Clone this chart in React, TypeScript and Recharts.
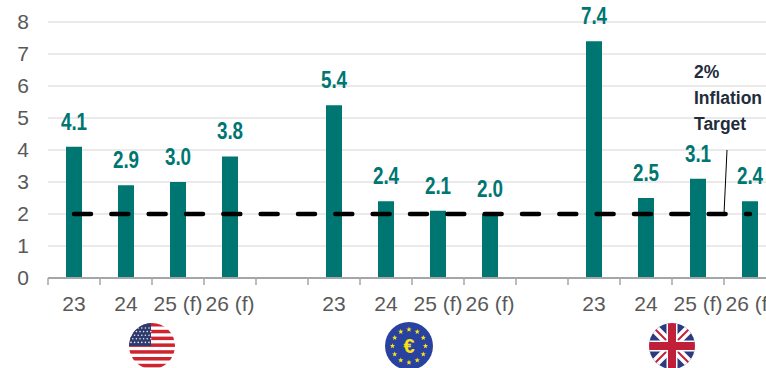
import { Bar, CartesianGrid, ComposedChart, LabelList, Line, XAxis, YAxis } from 'recharts';

const YEARS = ['23', '24', '25 (f)', '26 (f)', '', '23', '24', '25 (f)', '26 (f)', '', '23', '24', '25 (f)', '26 (f)'];
const INFLATION = [4.1, 2.9, 3.0, 3.8, null, 5.4, 2.4, 2.1, 2.0, null, 7.4, 2.5, 3.1, 2.4];
const TARGET = [2, 2, 2, 2, 2, 2, 2, 2, 2, 2, 2, 2, 2, 2];
const Y_TICKS = [0, 1, 2, 3, 4, 5, 6, 7, 8];
const TARGET_NOTE = ['2%', 'Inflation', 'Target'];

const TEAL = '#007672';
const SANS = '"Liberation Sans", Arial, sans-serif';
const SLOT_WIDTH = 52;

const rows = YEARS.map((year, i) => ({
  slot: i,
  year,
  inflation: INFLATION[i],
  target: TARGET[i],
}));

const STRIPES = [0, 1, 2, 3, 4, 5, 6];
const STAR_ANGLES = [0, 30, 60, 90, 120, 150, 180, 210, 240, 270, 300, 330];

function star(cx: number, cy: number, r: number) {
  const pts: string[] = [];
  for (let i = 0; i < 10; i++) {
    const a = (Math.PI / 5) * i - Math.PI / 2;
    const rad = i % 2 === 0 ? r : r * 0.42;
    pts.push(`${cx + rad * Math.cos(a)},${cy + rad * Math.sin(a)}`);
  }
  return pts.join(' ');
}

// Tick marks sit on the slot boundaries, the label stays centred in the slot
function YearTick({ x, y, payload }: any) {
  return (
    <g>
      <line x1={x - SLOT_WIDTH / 2} x2={x - SLOT_WIDTH / 2} y1={278} y2={285} stroke="#a6a6a6" strokeWidth={1.5} />
      <text x={x} y={y + 25} textAnchor="middle" fill="#595959" fontSize={21} fontFamily={SANS}>
        {YEARS[payload.value]}
      </text>
    </g>
  );
}

// Bold value labels, squeezed horizontally
function ValueLabel({ x, y, width, value }: any) {
  if (value == null) return null;
  const cx = x + width / 2;
  return (
    <text
      transform={`translate(${cx},${y - 17}) scale(0.82,1)`}
      textAnchor="middle"
      fill={TEAL}
      fontSize={23}
      fontWeight={700}
      fontFamily={SANS}
    >
      {Number(value).toFixed(1)}
    </text>
  );
}

function UsFlag() {
  const dots: [number, number][] = [];
  for (let row = 0; row < 5; row++) {
    for (let col = 0; col < 6; col++) {
      dots.push([131 + col * 3.6 + (row % 2) * 1.8, 328 + row * 3.6]);
    }
  }
  return (
    <g clipPath="url(#us-clip)">
      <rect x={129} y={323} width={46} height={46} fill="#ffffff" />
      {STRIPES.map((s) => (
        <rect key={s} x={129} y={323 + s * 6.8} width={46} height={3.5} fill="#cf2430" />
      ))}
      <rect x={129} y={323} width={22} height={23} fill="#2e3a6e" />
      {dots.map(([x, y], i) => (
        <circle key={i} cx={x} cy={y} r={0.8} fill="#e8ecf5" />
      ))}
    </g>
  );
}

function EuFlag() {
  return (
    <g>
      <circle cx={409} cy={346} r={24} fill="#2a429f" />
      {STAR_ANGLES.map((deg) => {
        const a = (deg * Math.PI) / 180;
        return <polygon key={deg} points={star(409 + 16.5 * Math.cos(a), 346 + 16.5 * Math.sin(a), 2.8)} fill="#f7e214" />;
      })}
      <text x={409} y={353} textAnchor="middle" fontFamily={SANS} fontWeight={700} fontSize={20} fill="#f7e214">
        €
      </text>
    </g>
  );
}

function UkFlag() {
  return (
    <g clipPath="url(#uk-clip)">
      <rect x={649} y={323} width={46} height={46} fill="#2c3a80" />
      <path d="M649 323 L695 369 M695 323 L649 369" stroke="#ffffff" strokeWidth={9} />
      <path d="M649 323 L695 369 M695 323 L649 369" stroke="#c4213a" strokeWidth={2} />
      <path d="M672 323 V369 M649 346 H695" stroke="#ffffff" strokeWidth={11} />
      <path d="M672 323 V369 M649 346 H695" stroke="#bf1f38" strokeWidth={8} />
    </g>
  );
}

export default function App() {
  return (
    <div style={{ position: 'fixed', left: 0, top: 0, width: 766, height: 368, overflow: 'hidden', background: '#fff' }}>
      <ComposedChart
        width={776}
        height={368}
        data={rows}
        margin={{ top: 22, right: 0, bottom: 0, left: 0 }}
        style={{ overflow: 'visible' }}
      >
        <CartesianGrid vertical={false} stroke="#e3e3e3" strokeWidth={1.5} />
        <XAxis
          dataKey="slot"
          type="category"
          interval={0}
          height={90}
          tick={<YearTick />}
          tickLine={false}
          axisLine={{ stroke: '#a6a6a6', strokeWidth: 2 }}
        />
        <YAxis
          width={48}
          domain={[0, 8]}
          ticks={Y_TICKS}
          interval={0}
          axisLine={false}
          tickLine={false}
          tickMargin={13}
          tick={{ fill: '#595959', fontSize: 21, fontFamily: SANS }}
        />
        <Bar dataKey="inflation" fill={TEAL} barSize={16} isAnimationActive={false}>
          <LabelList dataKey="inflation" content={<ValueLabel />} />
        </Bar>
        <Line
          dataKey="target"
          stroke="#000000"
          strokeWidth={4.5}
          strokeDasharray="17 20.33"
          strokeLinecap="round"
          dot={false}
          activeDot={false}
          isAnimationActive={false}
        />
      </ComposedChart>

      <svg width={766} height={368} style={{ position: 'absolute', left: 0, top: 0, pointerEvents: 'none' }}>
        <defs>
          <clipPath id="us-clip">
            <circle cx={152} cy={346} r={23} />
          </clipPath>
          <clipPath id="uk-clip">
            <circle cx={672} cy={346} r={23} />
          </clipPath>
        </defs>
        <UsFlag />
        <EuFlag />
        <UkFlag />
        <line x1={727} y1={150} x2={724} y2={214} stroke="#000000" strokeWidth={1} />
        {TARGET_NOTE.map((line, i) => (
          <text key={line} x={694} y={78 + i * 26} fontFamily={SANS} fontWeight={700} fontSize={17.5} fill="#1f2d3d">
            {line}
          </text>
        ))}
      </svg>
    </div>
  );
}
